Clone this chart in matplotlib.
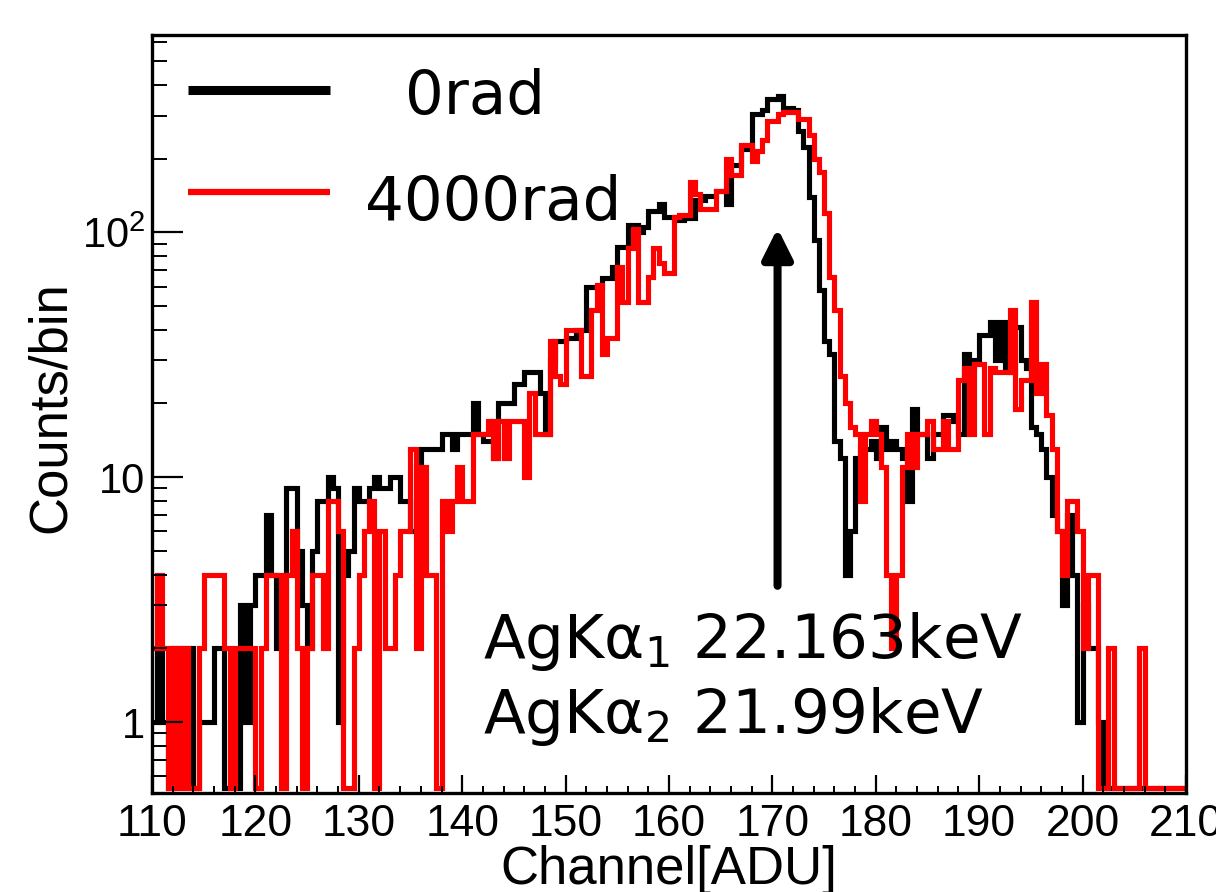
#!/usr/bin/env python3
"""
AgKa spectrum before / after irradiation (ROOT-style step histograms, log y)
"""

import numpy as np
import matplotlib
matplotlib.use('Agg')  # Non-interactive backend
import matplotlib.pyplot as plt
from matplotlib.lines import Line2D
from matplotlib.ticker import FixedLocator, FixedFormatter, MultipleLocator, LogLocator, NullFormatter

# Binning: 200 bins of 0.5 ADU
X_LO, X_HI, N_BINS = 110, 210, 200

# Counts per bin
COUNTS_0RAD = [
    1, 2, 1, 0, 2, 1, 2, 2, 0, 1,
    1, 1, 2, 2, 0, 1, 0, 3, 1, 3,
    4, 4, 7, 4, 2, 2, 9, 9, 5, 3,
    2, 5, 8, 8, 10, 9, 1, 4, 5, 9,
    8, 8, 9, 10, 9, 9, 10, 10, 8, 8,
    6, 11, 13, 13, 13, 13, 15, 15, 13, 15,
    15, 15, 20, 15, 14, 14, 12, 20, 20, 20,
    24, 24, 27, 27, 27, 22, 15, 30, 36, 36,
    37, 37, 40, 40, 60, 60, 60, 65, 65, 72,
    87, 87, 107, 107, 100, 105, 122, 122, 130, 116,
    116, 112, 112, 114, 114, 135, 135, 141, 141, 148,
    148, 130, 188, 188, 218, 218, 303, 303, 316, 352,
    352, 360, 323, 323, 316, 260, 224, 140, 93, 58,
    36, 32, 14, 12, 4, 6, 12, 13, 13, 14,
    12, 16, 13, 14, 13, 12, 8, 19, 15, 15,
    12, 15, 15, 18, 18, 17, 15, 32, 28, 30,
    38, 38, 43, 30, 43, 28, 27, 41, 30, 28,
    16, 15, 13, 10, 7, 6, 3, 7, 4, 1,
    3, 2, 2, 1, 0, 0, 0, 0, 0, 0,
    0, 0, 0, 0, 0, 0, 0, 0, 0, 0,
]

COUNTS_4000RAD = [
    2, 4, 2, 0, 2, 0, 2, 0, 0, 2,
    4, 4, 4, 4, 2, 0, 2, 2, 2, 2,
    0, 2, 4, 4, 4, 0, 4, 6, 2, 0,
    2, 4, 4, 2, 8, 8, 6, 0, 0, 2,
    4, 6, 8, 0, 6, 2, 2, 4, 6, 6,
    13, 2, 11, 4, 4, 0, 8, 6, 8, 11,
    8, 8, 15, 15, 15, 17, 12, 17, 12, 17,
    17, 17, 10, 22, 15, 15, 15, 36, 26, 24,
    40, 40, 40, 26, 26, 48, 61, 32, 37, 37,
    72, 52, 86, 103, 52, 52, 66, 86, 75, 68,
    68, 116, 118, 118, 161, 144, 124, 124, 124, 148,
    148, 200, 172, 172, 228, 228, 196, 215, 238, 284,
    284, 303, 310, 310, 310, 290, 290, 249, 200, 176,
    120, 66, 48, 26, 20, 16, 15, 8, 15, 17,
    15, 11, 4, 2, 4, 11, 15, 11, 15, 15,
    17, 13, 13, 17, 13, 13, 25, 28, 15, 29,
    29, 15, 28, 27, 27, 27, 48, 19, 25, 25,
    52, 22, 29, 18, 13, 6, 4, 8, 8, 6,
    2, 4, 4, 0, 0, 2, 0, 0, 0, 0,
    0, 2, 0, 0, 0, 0, 0, 0, 0, 0,
]

SERIES_LABELS = ['0rad', '4000rad']
SERIES_COLORS = ['black', '#ff0000']

X_TICKS = [110, 120, 130, 140, 150, 160, 170, 180, 190, 200, 210]
Y_TICKS = [1, 10, 100]
Y_TICK_LABELS = ['1', '10', r'$\mathregular{10^{2}}$']
Y_LIM = (0.513, 640)

LINE_TEXT = ['AgKα$_1$ 22.163keV', 'AgKα$_2$ 21.99keV']
ARROW_X = 170.5
ARROW_FROM = 3.6
ARROW_TO = 104


def main():
    plt.rcParams['font.family'] = ['Liberation Sans', 'DejaVu Sans']

    fig = plt.figure(figsize=(12.16, 8.92), dpi=100)
    ax = fig.add_axes([0.125, 0.111, 0.8503, 0.8498])

    edges = np.linspace(X_LO, X_HI, N_BINS + 1)
    floor = Y_LIM[0] * 1.05  # empty bins sit on the bottom frame, like ROOT
    for counts, color in zip([COUNTS_0RAD, COUNTS_4000RAD], SERIES_COLORS):
        vals = np.asarray(counts, dtype=float)
        vals = np.where(vals > 0, vals, floor)
        ax.stairs(vals, edges, baseline=None, color=color, linewidth=3.7)

    ax.set_yscale('log')
    ax.set_xlim(X_LO, X_HI)
    ax.set_ylim(*Y_LIM)

    # ticks, ROOT style (inside)
    ax.xaxis.set_major_locator(FixedLocator(X_TICKS))
    ax.xaxis.set_minor_locator(MultipleLocator(2))
    ax.yaxis.set_major_locator(FixedLocator(Y_TICKS))
    ax.yaxis.set_major_formatter(FixedFormatter(Y_TICK_LABELS))
    ax.yaxis.set_minor_locator(LogLocator(base=10, subs=range(2, 10)))
    ax.yaxis.set_minor_formatter(NullFormatter())
    ax.tick_params(axis='x', which='major', direction='in', length=13, width=1.6,
                   labelsize=32, pad=8, top=False)
    ax.tick_params(axis='x', which='minor', direction='in', length=5, width=1.4, top=False)
    ax.tick_params(axis='y', which='major', direction='in', length=22, width=1.6,
                   labelsize=30, pad=5, right=False)
    ax.tick_params(axis='y', which='minor', direction='in', length=11, width=1.4, right=False)
    for spine in ax.spines.values():
        spine.set_linewidth(2.4)

    ax.set_xlabel('Channel[ADU]', fontsize=38)
    ax.xaxis.set_label_coords(0.5, -0.068)
    ax.set_ylabel('Counts/bin', fontsize=38)
    ax.yaxis.set_label_coords(-0.074, 0.509)

    # legend drawn by hand (no frame)
    legend_y = [0.927, 0.793]
    legend_lw = [6.5, 4.5]
    text_x = [0.245, 0.206]
    text_y = [0.896, 0.756]
    for i, label in enumerate(SERIES_LABELS):
        ax.add_line(Line2D([0.035, 0.172], [legend_y[i], legend_y[i]], transform=ax.transAxes,
                           color=SERIES_COLORS[i], linewidth=legend_lw[i], solid_capstyle='butt'))
        ax.text(text_x[i], text_y[i], label, transform=ax.transAxes, fontsize=44,
                family='DejaVu Sans', va='baseline', ha='left')

    # line annotation
    ax.annotate('', xy=(ARROW_X, ARROW_TO), xytext=(ARROW_X, ARROW_FROM),
                arrowprops=dict(arrowstyle='-|>,head_length=0.9,head_width=0.45',
                                lw=5.8, color='black', mutation_scale=20,
                                shrinkA=0, shrinkB=0))
    ax.text(0.320, 0.178, LINE_TEXT[0], transform=ax.transAxes, fontsize=44,
            family='DejaVu Sans', va='baseline')
    ax.text(0.320, 0.079, LINE_TEXT[1], transform=ax.transAxes, fontsize=44,
            family='DejaVu Sans', va='baseline')

    fig.savefig('out.png', dpi=100)
    plt.close(fig)


if __name__ == '__main__':
    main()
